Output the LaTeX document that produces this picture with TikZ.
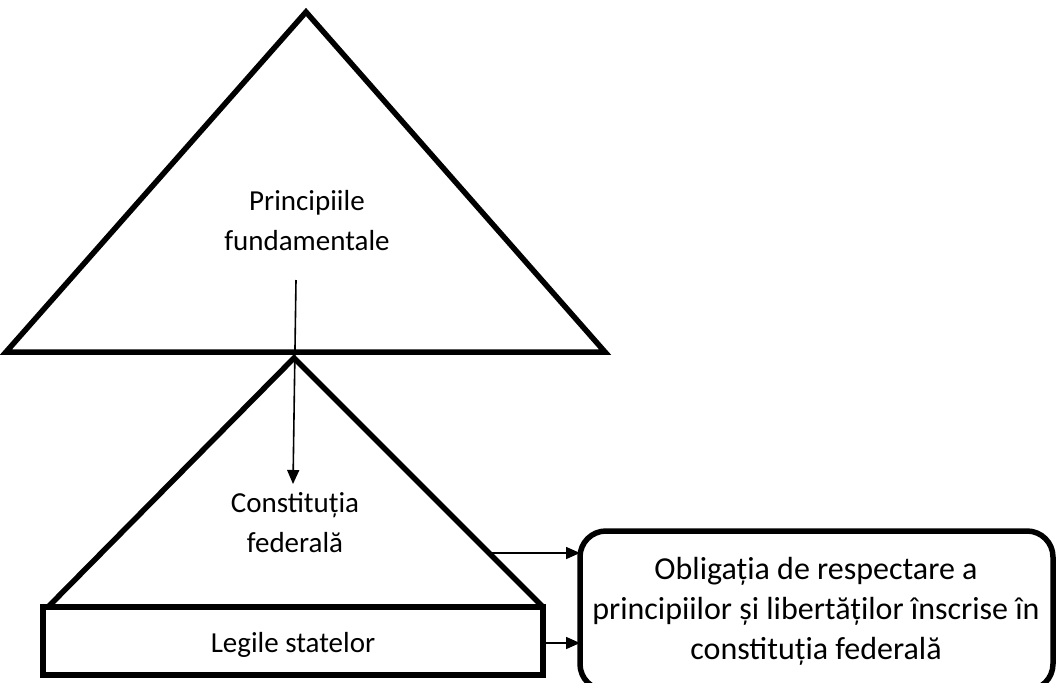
\documentclass[tikz,border=0pt]{standalone}
\usepackage{fontspec}
\setmainfont{Carlito}
\usepackage{tikz}
\usetikzlibrary{calc,positioning,arrows.meta,shapes}

\begin{document}
\begin{tikzpicture}[x=1pt,y=-1pt,
    every node/.style={font=\fontsize{29}{40}\selectfont, align=center, inner sep=0pt},
    thick line/.style={line width=5.5pt, line join=miter},
    link/.style={line width=1.6pt, -{Triangle[length=14pt,width=12pt]}}]
    \useasboundingbox (0,0) rectangle (1061,683);
    % triangles and the box of the state laws
    \draw[thick line] (6,352) -- (306,12) -- (605,352) -- cycle;
    \draw[thick line] (48,607) -- (294,358) -- (543,607);
    \draw[thick line] (43,607) rectangle (543,675);
    \draw[thick line, rounded corners=26pt] (580,531) rectangle (1053,690);
    \node (princ) at (307,221) {Principiile\\fundamentale};
    \node (const) at (295,523) {Constituția\\federală};
    \node (legi) at (293,645) {Legile statelor};
    \node[font=\fontsize{32}{40}\selectfont] (oblig) at (816,611) {Obligația de respectare a\\principiilor și libertăților înscrise în\\constituția federală};
    \coordinate (top) at (296,280);
    \coordinate (bot) at (293,484);
    \coordinate (edge) at (489,553);
    \coordinate (boxA) at (580,553);
    \coordinate (legiE) at (545,643);
    \coordinate (boxB) at (580,643);
    \draw[link] (top) -- (bot);
    \draw[link] (edge) -- (boxA);
    \draw[link] (legiE) -- (boxB);
\end{tikzpicture}
\end{document}
